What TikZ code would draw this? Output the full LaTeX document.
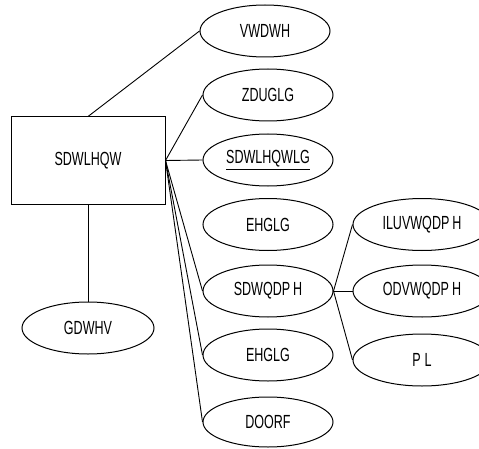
\documentclass[tikz,border=0pt]{standalone}
\usepackage{fontspec}
\newfontfamily\diagfont[FakeStretch=0.66]{Liberation Sans}
\usetikzlibrary{shapes.geometric}
\begin{document}
\begin{tikzpicture}[x=1pt,y=1pt,
  every node/.style={font=\diagfont\fontsize{19}{22}\selectfont},
  attr/.style={ellipse,draw,line width=1pt,minimum width=130pt,minimum height=52pt,inner sep=0pt},
  wattr/.style={attr,minimum width=138pt},
  entity/.style={rectangle,draw,line width=1pt,minimum width=154pt,minimum height=87pt,inner sep=0pt},
  conn/.style={line width=0.9pt}]
\clip (0,0) rectangle (479,448);
\useasboundingbox (0,0) rectangle (479,448);
\node[entity] (patient) at (88,287.5) {SDWLHQW};
\node[attr] (state) at (265,417) {VWDWH};
\node[attr] (wardid) at (268,353) {ZDUGLG};
\node[attr] (patientid) at (268,288) {\underline{SDWLHQWLG}};
\node[attr] (bedid1) at (268,223.5) {EHGLG};
\node[attr] (patname) at (268,157) {SDWQDP\kern3pt H};
\node[attr] (bedid2) at (268,93) {EHGLG};
\node[attr,minimum height=50pt] (alloc) at (268,26) {DOORF};
\node[wattr] (firstname) at (422,223.5) {ILUVWQDP\kern3pt H};
\node[wattr] (lastname) at (422,157) {ODVWQDP\kern3pt H};
\node[wattr] (mi) at (422,88) {P\kern4pt L};
\node[attr,minimum width=132pt] (dates) at (88,120) {GDWHV};
\draw[conn] (patient.north) -- (state.west);
\draw[conn] (patient.east) -- (wardid.west);
\draw[conn] (patient.east) -- (patientid.west);
\draw[conn] (patient.east) -- (patname.west);
\draw[conn] (patient.east) -- (bedid2.west);
\draw[conn] (patient.east) -- (alloc.west);
\draw[conn] (patient.south) -- (dates.north);
\draw[conn] (patname.east) -- (firstname.west);
\draw[conn] (patname.east) -- (lastname.west);
\draw[conn] (patname.east) -- (mi.west);
\end{tikzpicture}
\end{document}
